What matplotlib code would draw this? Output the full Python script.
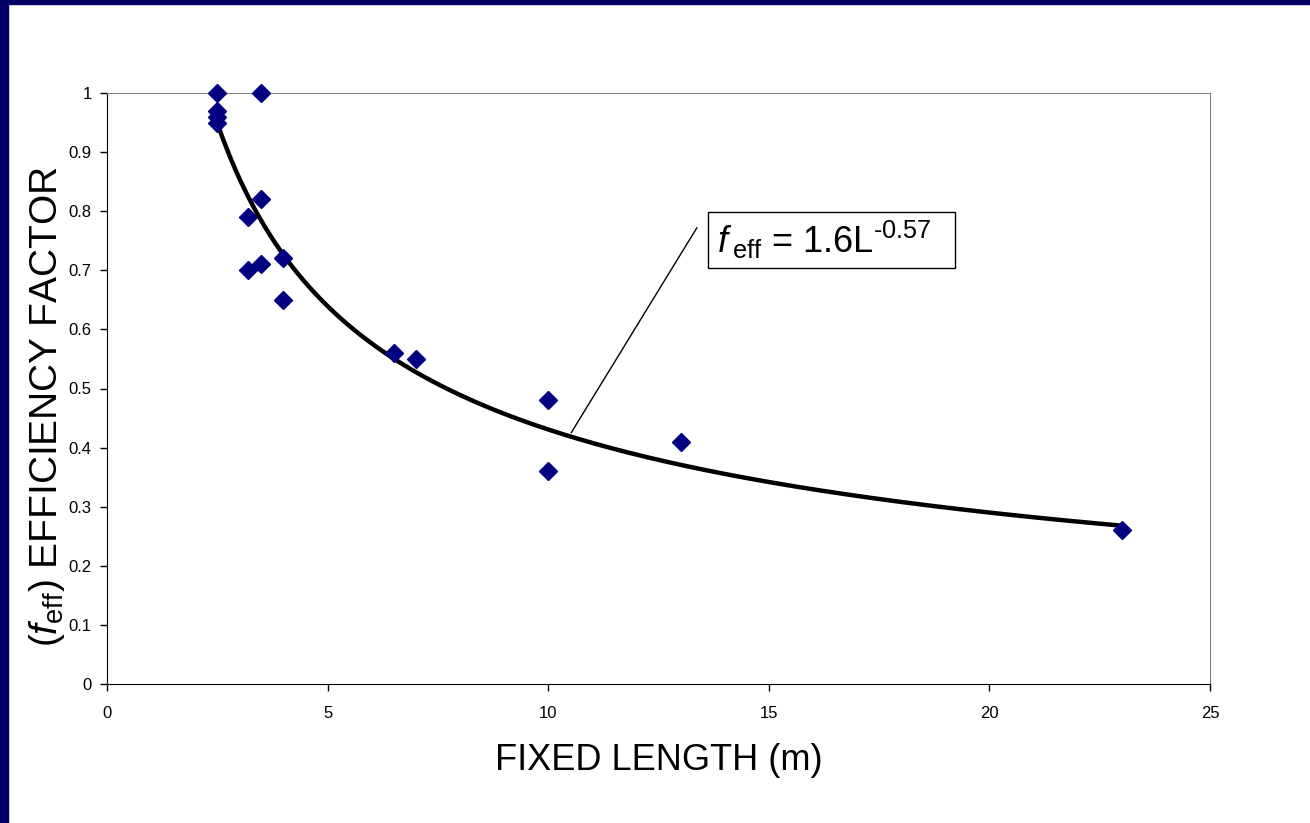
import numpy as np
import matplotlib.pyplot as plt
from matplotlib.patches import Rectangle

plt.rcParams["font.family"] = ["Liberation Sans", "DejaVu Sans"]
plt.rcParams["mathtext.fontset"] = "custom"
plt.rcParams["mathtext.rm"] = "Liberation Sans"
plt.rcParams["mathtext.it"] = "Liberation Sans:italic"

# measured points
length_m = [2.5, 2.5, 2.5, 2.5, 3.5, 3.5, 3.5, 3.2, 3.2, 4, 4, 6.5, 7, 10, 10, 13, 23]
f_eff = [1.0, 0.97, 0.96, 0.95, 1.0, 0.82, 0.71, 0.79, 0.70, 0.72, 0.65,
         0.56, 0.55, 0.48, 0.36, 0.41, 0.26]

# power trendline f = a * L^b
coef_a = 1.6
coef_b = -0.57

fig = plt.figure(figsize=(13.1, 8.23), dpi=100)
fig.patch.set_facecolor("white")

# dark blue slide border (left and top)
fig.patches.append(Rectangle((0, 0), 8 / 1310, 1, transform=fig.transFigure,
                             color="#000066", zorder=0))
fig.patches.append(Rectangle((0, 1 - 4 / 823), 1, 4 / 823, transform=fig.transFigure,
                             color="#000066", zorder=0))

ax = fig.add_axes([107 / 1310, 1 - 684 / 823, 1103 / 1310, 591 / 823])

L = np.linspace(min(length_m), max(length_m), 300)
ax.plot(L, coef_a * L ** coef_b, color="black", lw=3.2, zorder=2)
ax.plot(length_m, f_eff, linestyle="none", marker="D", markersize=9,
        color="#000080", zorder=3, clip_on=False)

ax.set_xlim(0, 25)
ax.set_ylim(0, 1)
ax.set_xticks(np.arange(0, 26, 5))
ax.set_yticks(np.arange(0, 1.01, 0.1))
ax.set_yticklabels(["0", "0.1", "0.2", "0.3", "0.4", "0.5", "0.6", "0.7", "0.8", "0.9", "1"])
ax.tick_params(direction="out", length=5, width=1, labelsize=12, pad=6)
ax.tick_params(axis="x", pad=11)
ax.spines["top"].set_color("#808080")
ax.spines["right"].set_color("#808080")
ax.spines["left"].set_color("black")
ax.spines["bottom"].set_color("black")

ax.set_xlabel("FIXED LENGTH (m)", fontsize=26, labelpad=16)
ax.set_ylabel(r"($\mathit{f}_{\mathrm{eff}}$) EFFICIENCY FACTOR", fontsize=28,
              va="center")
ax.yaxis.set_label_coords(-0.0545, 0.469)

# equation label with leader line
ax.annotate("", xy=(10.52, 0.425), xytext=(13.37, 0.772),
            arrowprops=dict(arrowstyle="-", color="black", lw=1,
                            shrinkA=0, shrinkB=0))
ax.add_patch(Rectangle((13.62, 0.704), 5.6, 0.095, fc="white", ec="black",
                       lw=1, zorder=4))
ax.text(13.83, 0.751, "$\\mathit{f}_{\\mathrm{\u2009eff}}$ = 1.6L$^{\\mathrm{\u20100.57}}$",
        fontsize=26, va="center", ha="left", zorder=5)

fig.savefig("out.png", dpi=100)
